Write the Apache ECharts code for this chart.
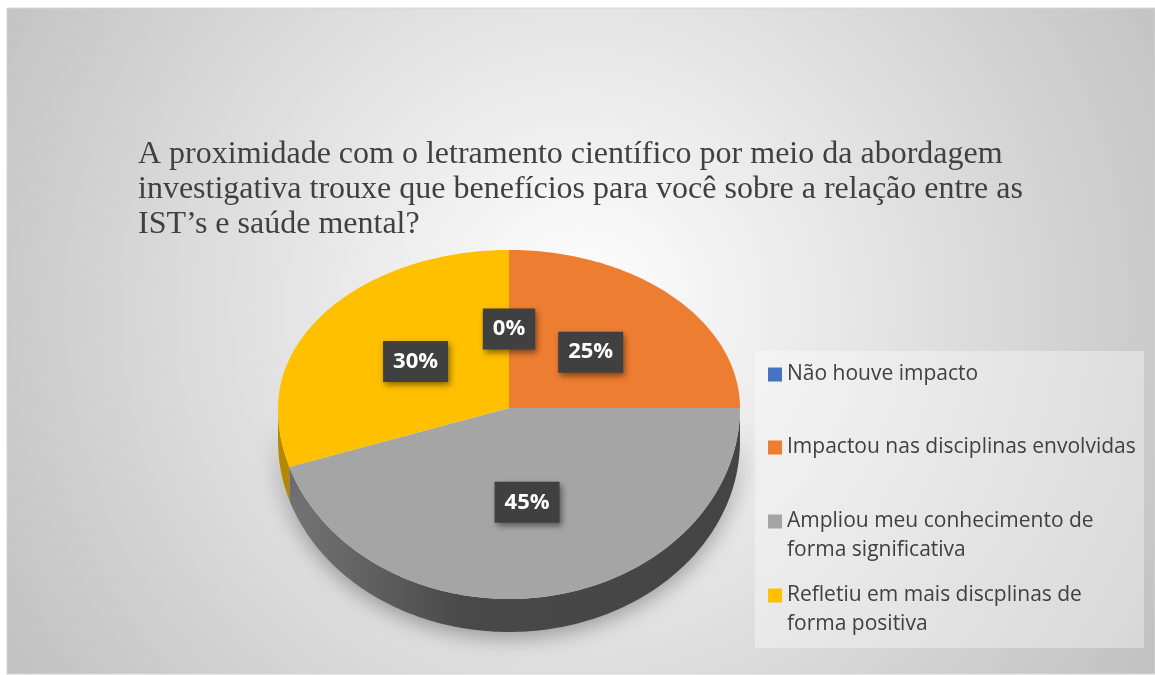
<!DOCTYPE html>
<html>
<head>
<meta charset="utf-8">
<script src="https://cdn.jsdelivr.net/npm/echarts@6/dist/echarts.min.js"></script>
<style>
  html, body { margin: 0; padding: 0; background: #fff; }
  #chart { width: 1155px; height: 675px; }
</style>
</head>
<body>
<div id="chart"></div>
<script>
// data
const titleText = 'A proximidade com o letramento científico por meio da abordagem\n' +
    'investigativa trouxe que benefícios para você sobre a relação entre as\n' +
    'IST’s e saúde mental?';
const categories = [
    'Não houve impacto',
    'Impactou nas disciplinas envolvidas',
    'Ampliou meu conhecimento de\nforma significativa',
    'Refletiu em mais discplinas de\nforma positiva'
];
const values = [0, 25, 45, 30];
const colors = ['#4472c4', '#ed7d31', '#a5a5a5', '#ffc000'];

// layout of the fake 3d pie (ellipse seen in perspective)
const pie = {cx: 509, cy: 408, rx: 231, ryTop: 158, ryBot: 191, depth: 33};
const legendTops = [355, 428, 473, 547];

const total = values.reduce((a, b) => a + b, 0);
const starts = values.map((v, i) => values.slice(0, i).reduce((a, b) => a + b, 0));

function pt(theta, k, dy) {
    const c = Math.cos(theta);
    const ry = c >= 0 ? pie.ryTop : pie.ryBot;
    return [pie.cx + k * pie.rx * Math.sin(theta), pie.cy - k * ry * c + (dy || 0)];
}

function arc(a, b, dy) {
    const n = Math.max(2, Math.ceil((b - a) / 0.02));
    const out = [];
    for (let i = 0; i <= n; i++) out.push(pt(a + (b - a) * i / n, 1, dy));
    return out;
}

function shade(hex, f) {
    const n = parseInt(hex.slice(1), 16);
    const r = Math.round(((n >> 16) & 255) * f);
    const g = Math.round(((n >> 8) & 255) * f);
    const b = Math.round((n & 255) * f);
    return 'rgb(' + r + ',' + g + ',' + b + ')';
}

function renderSlice(params, api) {
    const s = api.value(0), v = api.value(1);
    const a = s / total * 2 * Math.PI;
    const b = (s + v) / total * 2 * Math.PI;
    const color = api.visual('color');
    const children = [];

    // side wall, only the front half is visible
    const fa = Math.max(a, Math.PI / 2), fb = Math.min(b, 1.5 * Math.PI);
    if (fb > fa) {
        const top = arc(fa, fb, 0);
        const bottom = arc(fa, fb, pie.depth).reverse();
        children.push({
            type: 'polygon',
            z2: 0,
            shape: {points: top.concat(bottom)},
            style: {
                fill: new echarts.graphic.LinearGradient(pie.cx - pie.rx, 0, pie.cx + pie.rx, 0, [
                    {offset: 0, color: shade(color, 0.72)},
                    {offset: 0.4, color: shade(color, 0.44)},
                    {offset: 1, color: shade(color, 0.41)}
                ], true),
                shadowBlur: 22,
                shadowColor: 'rgba(0,0,0,0.35)',
                shadowOffsetY: 5
            }
        });
    }

    if (v > 0) {
        children.push({
            type: 'polygon',
            z2: 10,
            shape: {points: [[pie.cx, pie.cy]].concat(arc(a, b, 0))},
            style: {fill: color}
        });
    }

    const lp = pt((a + b) / 2, 0.5, 0);
    children.push({
        type: 'text',
        z2: 100,
        x: lp[0],
        y: lp[1],
        style: {
            text: v + '%',
            fill: '#fff',
            fontFamily: 'Open Sans',
            fontWeight: 'bold',
            fontSize: 22,
            lineHeight: 25,
            align: 'center',
            verticalAlign: 'middle',
            backgroundColor: '#404040',
            padding: [8, 10, 8, 10],
            shadowBlur: 6,
            shadowColor: 'rgba(0,0,0,0.45)',
            shadowOffsetX: 2,
            shadowOffsetY: 3
        }
    });
    return {type: 'group', children: children};
}

const series = categories.map((name, i) => ({
    name: name,
    type: 'custom',
    coordinateSystem: 'none',
    itemStyle: {color: colors[i]},
    silent: true,
    data: [[starts[i], values[i]]],
    renderItem: renderSlice
}));

// two-line entries get an empty first line so the marker sits on the first text line
const legends = categories.map((name, i) => ({
    data: [name],
    left: 763,
    top: legendTops[i],
    icon: 'rect',
    itemWidth: 14,
    itemHeight: 14,
    itemGap: 6,
    selectedMode: false,
    formatter: n => (n.indexOf('\n') >= 0 ? '\n' + n : n),
    textStyle: {
        fontFamily: 'Open Sans',
        fontSize: 21,
        color: '#404040',
        lineHeight: 29
    }
}));

const option = {
    animation: false,
    graphic: [
        {
            type: 'rect',
            z: -10,
            shape: {x: 7, y: 8, width: 1148, height: 666},
            style: {
                fill: new echarts.graphic.RadialGradient(0.5, 0.45, 1.0, [
                    {offset: 0, color: '#ffffff'},
                    {offset: 1, color: '#c2c2c2'}
                ]),
                stroke: '#d4d4d4',
                lineWidth: 1
            }
        },
        {
            type: 'rect',
            z: -5,
            shape: {x: 755, y: 351, width: 389, height: 297},
            style: {fill: 'rgba(255,255,255,0.35)'}
        }
    ],
    title: {
        text: titleText,
        left: 133,
        top: 132,
        textStyle: {
            fontFamily: 'Liberation Serif',
            fontWeight: 'normal',
            fontSize: 32,
            lineHeight: 35,
            color: '#404040'
        }
    },
    legend: legends,
    series: series
};

const chart = echarts.init(document.getElementById('chart'));
chart.setOption(option);
</script>
</body>
</html>
